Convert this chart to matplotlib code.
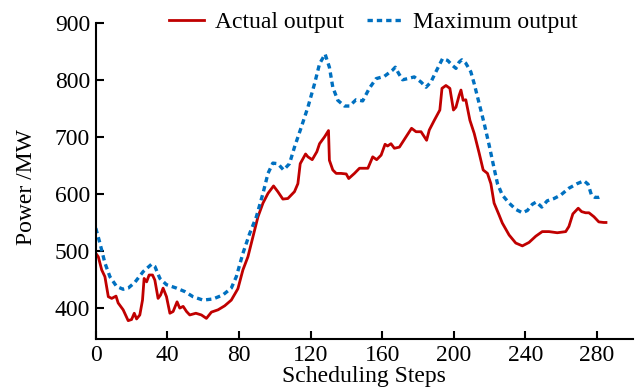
import numpy as np
import matplotlib
matplotlib.use("Agg")
import matplotlib.pyplot as plt

# values
actual_x = [0, 1.4, 3.3, 5.1, 7, 8.9, 11.3, 12.5, 15.3, 18.1, 20, 21.5, 22.8, 24.6, 26.1, 27,
            28.4, 29.8, 31.7, 33, 34.8, 36.2, 37.6, 39.5, 41.4, 43.2, 45.4, 46.9, 48.8, 50.7,
            52.5, 55.9, 59, 61.8, 64.6, 68.3, 72, 75.7, 79.4, 82.2, 85, 87.8, 90.6, 93.4,
            96.2, 99.3, 101.7, 104.5, 107.3, 111, 112.9, 114.2, 117.2, 118.5, 120.9, 123.5,
            125, 127.8, 130, 130.5, 132.4, 134.3, 137, 139.9, 141.3, 144.5, 147.3, 152,
            154.7, 156.9, 159.4, 161.6, 163, 164.9, 166.8, 169.6, 173.3, 176.4, 178.9, 181.7,
            184.8, 186.3, 189.1, 192.2, 193.4, 195.6, 197.8, 199.8, 201.2, 203, 204, 205.2,
            206.7, 209, 211.4, 214.2, 216.4, 218.8, 220.7, 222.5, 225.3, 227.1, 230.9, 234.6,
            238.3, 242, 245.8, 249.4, 253.2, 257.8, 262.5, 264.3, 266.5, 269.5, 271.4, 273.6,
            275.5, 278.3, 281, 283.8, 285]
actual_y = [496, 490, 467, 455, 420, 417, 421, 409, 397, 378, 380, 391, 381, 388, 414, 452,
            446, 458, 458, 449, 417, 423, 435, 420, 391, 394, 411, 400, 403, 394,
            388, 391, 388, 382, 393, 397, 404, 414, 434, 467, 490, 525, 560, 584,
            601, 614, 604, 591, 592, 604, 618, 653, 670, 665, 660, 674,
            688, 700, 711, 659, 642, 636, 636, 635, 627, 636, 645, 645,
            665, 660, 668, 687, 684, 688, 680, 682, 700, 715, 709, 709,
            694, 712, 729, 747, 785, 790, 785, 747, 752, 773, 782, 764,
            765, 729, 706, 671, 642, 636, 618, 584, 563, 549, 528, 514,
            509, 515, 526, 534, 534, 532, 534, 543, 565, 575, 569, 567,
            567, 560, 551, 550, 550]

max_x = [0, 2.3, 5.1, 7.9, 11.6, 15.3, 18.1, 21.8, 26.5, 31.2, 33, 35.8, 39.5, 45.1, 49.7,
         54.3, 59.9, 65.5, 71, 75.7, 78.5, 82.2, 86, 89.7, 93.4, 96.2, 98.9, 101.7, 104.9,
         108.2, 111, 114.8, 118.5, 122.2, 125, 128.1, 130.5, 132.4, 135.2, 138.9, 141.7,
         145.4, 149.1, 152.8, 156.6, 161.2, 165.8, 167.3, 169.2, 171.4, 174.2, 177.9, 181.7,
         184.5, 187.2, 190, 193.7, 196.5, 199.3, 201.2, 203, 204.5, 206.7, 209.5, 211.4,
         214.2, 217, 219.7, 222.5, 224.4, 227.1, 230.9, 234.6, 238.3, 241.1, 243.9, 246.1,
         249.1, 252.2, 256, 259.7, 264.3, 268.9, 272.7, 275, 276.9, 278.8, 281, 282.9]
max_y = [540, 514, 479, 455, 438, 433, 435, 445, 464, 477, 473, 452, 441, 435, 429,
         420, 414, 416, 423, 435, 455, 496, 531, 560, 601, 636, 654, 653, 642,
         653, 682, 717, 752, 793, 828, 845, 822, 787, 764, 754, 754,
         765, 763, 785, 802, 806, 817, 822, 811, 800, 802, 805, 796,
         787, 796, 814, 837, 834, 825, 820, 831, 835, 829, 814, 793,
         758, 723, 686, 645, 618, 598, 584, 573, 567, 571, 582, 586,
         577, 588, 592, 598, 610, 618, 623, 617, 598, 594, 594, 596]

x_ticks = [0, 40, 80, 120, 160, 200, 240, 280]
y_ticks = [400, 500, 600, 700, 800, 900]

plt.rcParams['font.family'] = ['Liberation Serif', 'DejaVu Serif']
plt.rcParams['font.size'] = 17

fig = plt.figure(figsize=(6.36, 3.9), dpi=100)
ax = fig.add_axes([0.1506, 0.1295, 0.8444, 0.8123])

ax.plot(actual_x, actual_y, color='#C00000', lw=2.0, label='Actual output')
ax.plot(max_x, max_y, color='#0070C0', lw=2.4, linestyle=(0, (1.6, 1.2)),
        label='Maximum output')

ax.set_xlim(0, 300)
ax.set_ylim(345, 900)
ax.set_xticks(x_ticks)
ax.set_yticks(y_ticks)
ax.spines['top'].set_visible(False)
ax.spines['right'].set_visible(False)
for s in ['left', 'bottom']:
    ax.spines[s].set_linewidth(1.5)
ax.tick_params(direction='in', length=6, width=1.5, pad=4)

ax.set_xlabel('Scheduling Steps', labelpad=0)
ax.set_ylabel('Power /MW')
ax.yaxis.set_label_coords(-0.11, 0.48)

ax.legend(loc='center', bbox_to_anchor=(0.517, 1.0), ncol=2, frameon=False,
          handlelength=1.45, handletextpad=0.5, columnspacing=0.95,
          borderpad=0, borderaxespad=0)

fig.savefig('out.png', dpi=100)
